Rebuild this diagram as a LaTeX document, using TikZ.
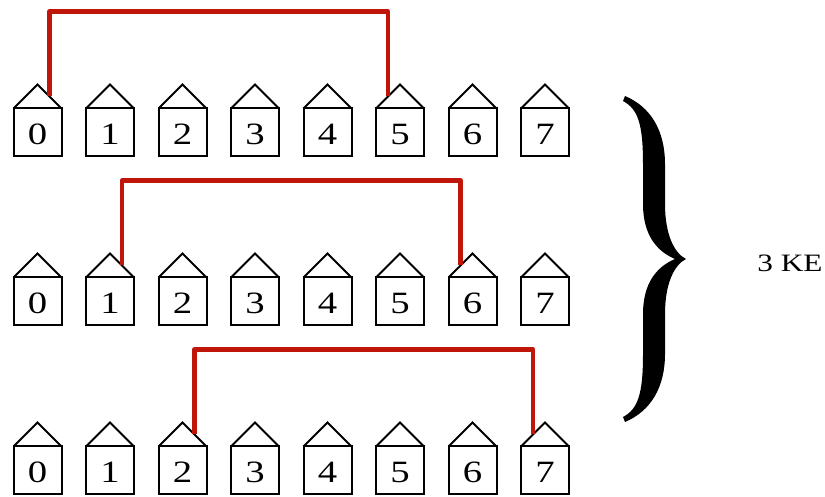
\documentclass[tikz,border=0pt]{standalone}
\usepackage{fontspec}
\setmainfont[FakeStretch=1.25]{Liberation Serif}
\definecolor{linkred}{RGB}{192,22,10}

\begin{document}
\begin{tikzpicture}[x=1pt,y=1pt,
  housebox/.style={draw,line width=2pt,minimum size=48pt,inner sep=0pt,outer sep=0pt,
    font=\fontsize{31}{34}\selectfont,text height=25pt,text depth=0pt},
  roof/.style={line width=2pt},
  link/.style={draw=linkred,line width=4.3pt,line join=round}]

\useasboundingbox (0,0) rectangle (825,497) ;

% three rows of eight houses
\foreach \r/\y in {1/364.5,2/195.5,3/26.5} {
  \foreach \c in {0,...,7} {
    \node [housebox] (h\r-\c) at (37.5+72.5*\c,\y) {\c} ;
    \draw [roof] (h\r-\c.north west) -- ([yshift=24pt]h\r-\c.north) -- (h\r-\c.north east) ;
    \path (h\r-\c.north) ++(12,12) coordinate (r\r-\c) ++(-24,0) coordinate (l\r-\c) ;
  }
}

\draw [link] (r1-0) -- ++(0,85) -| (l1-5) ;
\draw [link] (r2-1) -- ++(0,85) -| (l2-6) ;
\draw [link] (r3-2) -- ++(0,85) -| (l3-7) ;

% brace
\begin{scope}[shift={(686,238)}]
\fill (-61,163) .. controls (-35,152) and (-21,128) .. (-21,95) -- (-21,55)
  .. controls (-21,25) and (-12,6) .. (0,0)
  .. controls (-12,-6) and (-21,-25) .. (-21,-55) -- (-21,-95)
  .. controls (-21,-128) and (-35,-152) .. (-61,-163) -- (-63,-158)
  .. controls (-48,-150) and (-43,-135) .. (-43,-95) -- (-43,-55)
  .. controls (-43,-25) and (-30,-8) .. (-11,0)
  .. controls (-30,8) and (-43,25) .. (-43,55) -- (-43,95)
  .. controls (-43,135) and (-48,150) .. (-63,158) -- cycle ;
\end{scope}

\node [font=\fontsize{25}{30}\selectfont] (ke) at (790,233.7) {3 KE} ;
\end{tikzpicture}
\end{document}
